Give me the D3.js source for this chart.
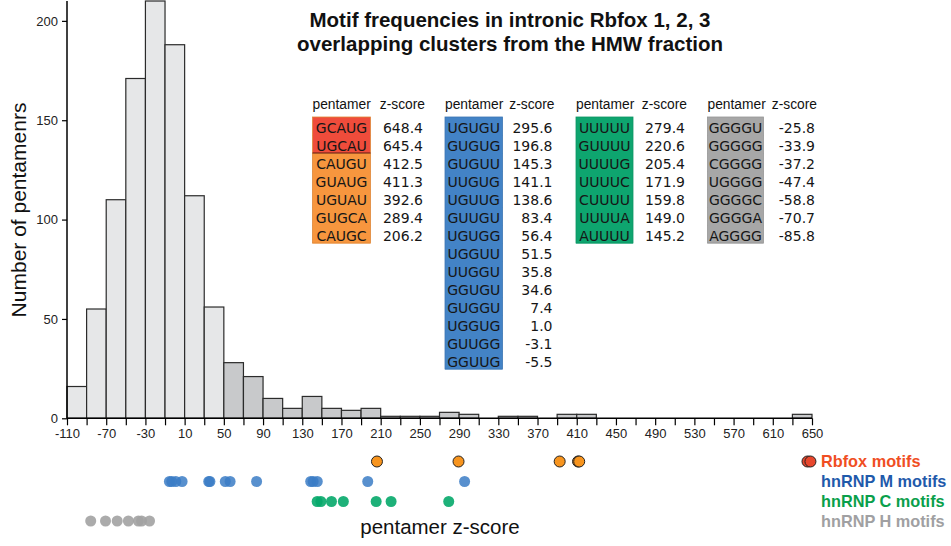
<!DOCTYPE html>
<html>
<head>
<meta charset="utf-8">
<script src="https://cdn.jsdelivr.net/npm/d3@7"></script>
<style>
  body { margin: 0; background: #fff; }
  svg { display: block; }
</style>
</head>
<body>
<svg id="chart" width="951" height="546" viewBox="0 0 951 546"></svg>
<script>
// histogram bins (lower edges, width 20) and counts
const binEdges = [-110, -90, -70, -50, -30, -10, 10, 30, 50, 70, 90, 110, 130, 150, 170, 190,
                  210, 230, 250, 270, 290, 310, 330, 350, 370, 390, 410, 430, 450, 470, 490,
                  510, 530, 550, 570, 590, 610, 630, 650];
const binCounts = [16, 55, 110, 171, 210, 188, 112, 56, 28, 21, 10, 5, 11, 5, 4, 5,
                   1, 1, 1, 3, 2, 0, 1, 1, 0, 2, 2, 0, 0, 0, 0,
                   0, 0, 0, 0, 0, 0, 2];
const yTicks = [0, 50, 100, 150, 200];

// motif tables
const rbfoxMotifs = ["GCAUG", "UGCAU", "CAUGU", "GUAUG", "UGUAU", "GUGCA", "CAUGC"];
const rbfoxScores = [648.4, 645.4, 412.5, 411.3, 392.6, 289.4, 206.2];
const hnrnpMMotifs = ["UGUGU", "GUGUG", "GUGUU", "UUGUG", "UGUUG", "GUUGU", "UGUGG",
                      "UGGUU", "UUGGU", "GGUGU", "GUGGU", "UGGUG", "GUUGG", "GGUUG"];
const hnrnpMScores = [295.6, 196.8, 145.3, 141.1, 138.6, 83.4, 56.4, 51.5, 35.8, 34.6, 7.4, 1.0, -3.1, -5.5];
const hnrnpCMotifs = ["UUUUU", "GUUUU", "UUUUG", "UUUUC", "CUUUU", "UUUUA", "AUUUU"];
const hnrnpCScores = [279.4, 220.6, 205.4, 171.9, 159.8, 149.0, 145.2];
const hnrnpHMotifs = ["GGGGU", "GGGGG", "CGGGG", "UGGGG", "GGGGC", "GGGGA", "AGGGG"];
const hnrnpHScores = [-25.8, -33.9, -37.2, -47.4, -58.8, -70.7, -85.8];

const legendLabels = ["Rbfox motifs", "hnRNP M motifs", "hnRNP C motifs", "hnRNP H motifs"];

const svg = d3.select("#chart");
const sans = "Arial, 'Liberation Sans', sans-serif";
const narrow = "'Liberation Sans Narrow', 'Arial Narrow', Arial, sans-serif";
const verdana = "Verdana, 'DejaVu Sans', sans-serif";

const x = d3.scaleLinear().domain([-110, 650]).range([67, 812]);
const y = d3.scaleLinear().domain([0, 210]).range([418.3, 1]);

// bars
const bins = binCounts.map((c, i) => ({x0: binEdges[i], x1: binEdges[i + 1], n: c}))
                      .filter(d => d.n > 0);
svg.append("g").selectAll("rect")
    .data(bins)
    .enter()
    .append("rect")
    .attr("x", d => x(d.x0))
    .attr("y", d => y(d.n))
    .attr("width", d => x(d.x1) - x(d.x0))
    .attr("height", d => y(0) - y(d.n))
    .style("fill", d => d.x0 < 50 ? "#e6e7e8" : "#c8c9cb")
    .style("stroke", "#2b2b2b")
    .style("stroke-width", 1.2);

// x axis
const xAxis = d3.axisBottom(x)
    .tickValues(binEdges)
    .tickSize(7)
    .tickPadding(3)
    .tickFormat(d => ((d + 110) % 40 === 0) ? d : "");
const gx = svg.append("g")
    .attr("transform", `translate(0,${y(0)})`)
    .call(xAxis);
gx.select(".domain").attr("d", `M${x(-110)},0H${x(650)}`).style("stroke-width", 1.5);
gx.selectAll(".tick line").style("stroke-width", 1.2);
gx.selectAll("text").style("font-family", narrow).style("font-size", "13px").style("fill", "#222");

// y axis
const yAxis = d3.axisLeft(y)
    .tickValues(yTicks)
    .tickSize(5)
    .tickPadding(4);
const gy = svg.append("g")
    .attr("transform", `translate(${x(-110)},0)`)
    .call(yAxis);
gy.select(".domain").attr("d", `M0,${y(0)}V${y(210)}`).style("stroke-width", 1.5);
gy.selectAll(".tick line").style("stroke-width", 1.2);
gy.selectAll("text").style("font-family", narrow).style("font-size", "13px").style("fill", "#222");

// axis titles
svg.append("text")
    .attr("transform", "translate(26,210) rotate(-90)")
    .attr("text-anchor", "middle")
    .style("font-family", sans)
    .style("font-size", "21px")
    .style("fill", "#111")
    .text("Number of pentamenrs");

svg.append("text")
    .attr("x", 440)
    .attr("y", 534)
    .attr("text-anchor", "middle")
    .style("font-family", sans)
    .style("font-size", "20.5px")
    .style("fill", "#111")
    .text("pentamer z-score");

// title
const title = svg.append("text")
    .attr("text-anchor", "middle")
    .style("font-family", sans)
    .style("font-size", "20.5px")
    .style("font-weight", "bold")
    .style("fill", "#111");
title.append("tspan").attr("x", 510).attr("y", 27).text("Motif frequencies in intronic Rbfox 1, 2, 3");
title.append("tspan").attr("x", 510).attr("y", 51).text("overlapping clusters from the HMW fraction");

// tables
const rowH = 18, tableTop = 117;
const tables = [
    {motifs: rbfoxMotifs, scores: rbfoxScores, x: 312.5, w: 58, right: 423,
     color: (i) => i < 2 ? "#ef4c3b" : "#f7963e"},
    {motifs: hnrnpMMotifs, scores: hnrnpMScores, x: 445, w: 57.5, right: 552.5, color: () => "#4383c6"},
    {motifs: hnrnpCMotifs, scores: hnrnpCScores, x: 576, w: 57, right: 685, color: () => "#0ea56f"},
    {motifs: hnrnpHMotifs, scores: hnrnpHScores, x: 707.5, w: 56, right: 815, color: () => "#a7a7a7"}
];

tables.forEach(function(t) {
    let g = svg.append("g");
    g.append("text")
        .attr("x", t.x)
        .attr("y", 109)
        .style("font-family", sans)
        .style("font-size", "13.8px")
        .style("fill", "#111")
        .text("pentamer");
    g.append("text")
        .attr("x", t.right + 2)
        .attr("y", 109)
        .attr("text-anchor", "end")
        .style("font-family", sans)
        .style("font-size", "13.8px")
        .style("fill", "#111")
        .text("z-score");

    g.selectAll("rect.cell")
        .data(t.motifs)
        .enter()
        .append("rect")
        .attr("class", "cell")
        .attr("x", t.x)
        .attr("y", (d, i) => tableTop + i * rowH)
        .attr("width", t.w)
        .attr("height", rowH + 0.5)
        .style("fill", (d, i) => t.color(i));

    g.append("rect")
        .attr("x", t.x)
        .attr("y", tableTop)
        .attr("width", t.w)
        .attr("height", t.motifs.length * rowH)
        .style("fill", "none")
        .style("stroke", d3.color(t.color(t.motifs.length - 1)).darker(0.3))
        .style("stroke-width", 0.8);

    g.selectAll("text.motif")
        .data(t.motifs)
        .enter()
        .append("text")
        .attr("class", "motif")
        .attr("x", t.x + t.w / 2)
        .attr("y", (d, i) => tableTop + i * rowH + 15.5)
        .attr("text-anchor", "middle")
        .style("font-family", verdana)
        .style("font-size", "14px")
        .style("fill", "#161616")
        .text(d => d);

    g.selectAll("text.score")
        .data(t.scores)
        .enter()
        .append("text")
        .attr("class", "score")
        .attr("x", t.right)
        .attr("y", (d, i) => tableTop + i * rowH + 15.5)
        .attr("text-anchor", "end")
        .style("font-family", verdana)
        .style("font-size", "14px")
        .style("fill", "#161616")
        .text(d => d.toFixed(1));
});

// separator between GCAUG/UGCAU and the rest
svg.append("line")
    .attr("x1", 312.5).attr("x2", 370.5)
    .attr("y1", tableTop + 2 * rowH).attr("y2", tableTop + 2 * rowH)
    .style("stroke", "#5a1a10")
    .style("stroke-width", 1.2);

// dot strips
const strips = [
    {scores: rbfoxScores, y: 461.5, fill: (i) => i < 2 ? "#e8472d" : "#f7941e", stroke: "#222", op: 1},
    {scores: hnrnpMScores, y: 481.5, fill: () => "#3b7cc6", stroke: "none", op: 0.85},
    {scores: hnrnpCScores, y: 501.5, fill: () => "#06a86a", stroke: "none", op: 0.9},
    {scores: hnrnpHScores, y: 521, fill: () => "#a2a2a2", stroke: "none", op: 0.9}
];
strips.forEach(function(s) {
    svg.append("g").selectAll("circle")
        .data(s.scores.slice().reverse())
        .enter()
        .append("circle")
        .attr("cx", d => x(d))
        .attr("cy", s.y)
        .attr("r", 5.5)
        .style("fill", (d, i) => s.fill(s.scores.length - 1 - i))
        .style("fill-opacity", s.op)
        .style("stroke", s.stroke)
        .style("stroke-width", 1);
});

// legend
const legendColors = ["#f04e23", "#1f5aab", "#0a9f4b", "#a0a0a2"];
svg.append("g").selectAll("text")
    .data(legendLabels)
    .enter()
    .append("text")
    .attr("x", 821)
    .attr("y", (d, i) => 466.5 + i * 20)
    .style("font-family", sans)
    .style("font-size", "16.3px")
    .style("font-weight", "bold")
    .style("fill", (d, i) => legendColors[i])
    .text(d => d);
</script>
</body>
</html>
